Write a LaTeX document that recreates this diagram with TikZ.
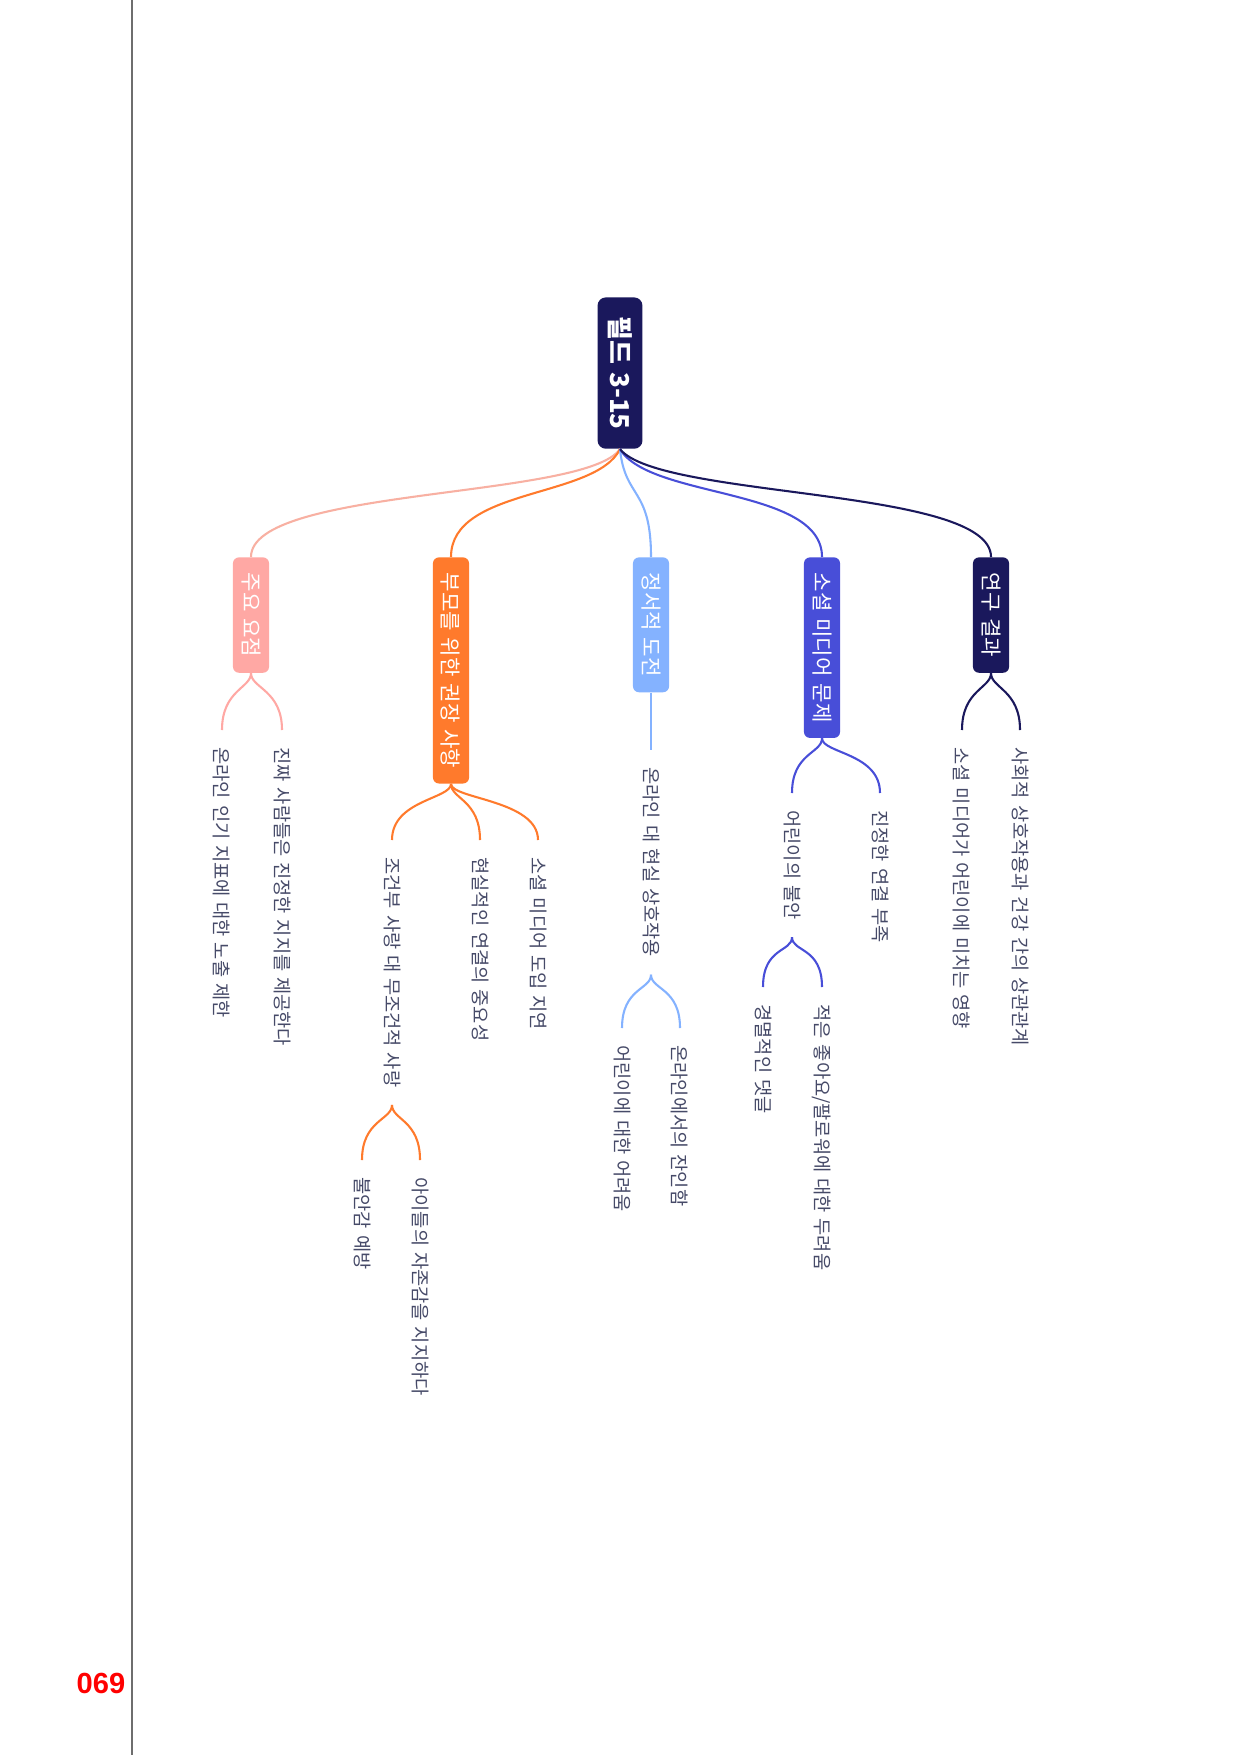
\documentclass[tikz,border=0pt]{standalone}
\usepackage{fontspec}
\setmainfont[WordSpace=1.4]{Noto Sans CJK KR}
\newfontfamily\pagenumfont{Liberation Sans}

\definecolor{navy}{RGB}{26,24,92}
\definecolor{rose}{RGB}{255,168,164}
\definecolor{roseline}{RGB}{248,176,162}
\definecolor{tangerine}{RGB}{255,122,44}
\definecolor{skyblue}{RGB}{132,178,255}
\definecolor{indigo}{RGB}{72,78,216}
\definecolor{leaftext}{RGB}{70,74,104}
\definecolor{rulegray}{RGB}{110,110,110}

\begin{document}
\begin{tikzpicture}[
  x = 0.1692mm, y = -0.1692mm,
  rootbox/.style  = {fill=navy, text=white, rounded corners=1.4mm, rotate=-90, anchor=west,
                     font=\fontsize{12.5}{14}\selectfont\bfseries,
                     inner xsep=3.2mm, inner ysep=0pt, minimum height=7.6mm},
  topicbox/.style = {fill=#1, text=white, rounded corners=1mm, rotate=-90, anchor=west,
                     font=\fontsize{10.2}{12}\selectfont,
                     inner xsep=2.6mm, inner ysep=0pt, minimum height=6.1mm},
  leafnote/.style = {text=leaftext, rotate=-90, anchor=west,
                     font=\fontsize{9}{11}\selectfont,
                     inner xsep=2.9mm, inner ysep=1pt},
  branch/.style   = {draw=#1, line width=1pt},
]

\fill[white] (0,0) rectangle (1241,1755);
\useasboundingbox (0,0) rectangle (1241,1755);

% page margin and number
\draw[rulegray, line width=0.5pt] (132,0) -- (132,1755);
\node[font=\pagenumfont\fontsize{14}{16}\selectfont\bfseries, text=red, inner sep=0pt]
  (pagenum) at (101,1683) {069};

% level 0
\node[rootbox] (k0) at (620,297) {필드 3-15};
% level 1
\node[topicbox=rose]      (t1) at (251,557) {주요 요점};
\node[topicbox=tangerine] (t2) at (451,557) {부모를 위한 권장 사항};
\node[topicbox=skyblue]   (t3) at (651,557) {정서적 도전};
\node[topicbox=indigo]    (t4) at (822,557) {소셜 미디어 문제};
\node[topicbox=navy]      (t5) at (991,557) {연구 결과};
% level 2
\node[leafnote] (l11) at (222,730) {온라인 인기 지표에 대한 노출 제한};
\node[leafnote] (l12) at (282,730) {진짜 사람들은 진정한 지지를 제공한다};
\node[leafnote] (l21) at (392,840) {조건부 사랑 대 무조건적 사랑};
\node[leafnote] (l22) at (480,840) {현실적인 연결의 중요성};
\node[leafnote] (l23) at (538,840) {소셜 미디어 도입 지연};
\node[leafnote] (l31) at (651,750) {온라인 대 현실 상호작용};
\node[leafnote] (l41) at (792,793) {어린이의 불안};
\node[leafnote] (l42) at (880,793) {진정한 연결 부족};
\node[leafnote] (l51) at (962,730) {소셜 미디어가 어린이에 미치는 영향};
\node[leafnote] (l52) at (1020,730) {사회적 상호작용과 건강 간의 상관관계};
% level 3
\node[leafnote] (l211) at (362,1160) {불안감 예방};
\node[leafnote] (l212) at (420,1160) {아이들의 자존감을 지지하다};
\node[leafnote] (l311) at (622,1028) {어린이에 대한 어려움};
\node[leafnote] (l312) at (680,1028) {온라인에서의 잔인함};
\node[leafnote] (l411) at (763,987) {경멸적인 댓글};
\node[leafnote] (l412) at (822,987) {적은 좋아요/팔로워에 대한 두려움};

\foreach \p/\c/\col/\o in {k0/t1/roseline/-35, k0/t2/tangerine/-25, k0/t3/skyblue/5,
                           k0/t4/indigo/30, k0/t5/navy/40}
  \draw[branch=\col] (\p.east) .. controls +(\o,50) and +(0,-70) .. (\c.west);

\foreach \p/\c/\col in {t1/l11/rose, t1/l12/rose,
                        t2/l21/tangerine, t2/l22/tangerine, t2/l23/tangerine,
                        l21/l211/tangerine, l21/l212/tangerine,
                        t3/l31/skyblue, l31/l311/skyblue, l31/l312/skyblue,
                        t4/l41/indigo, t4/l42/indigo,
                        l41/l411/indigo, l41/l412/indigo,
                        t5/l51/navy, t5/l52/navy}
  \draw[branch=\col] (\p.east) .. controls +(0,15) and +(0,-40) .. (\c.west);

\end{tikzpicture}
\end{document}
